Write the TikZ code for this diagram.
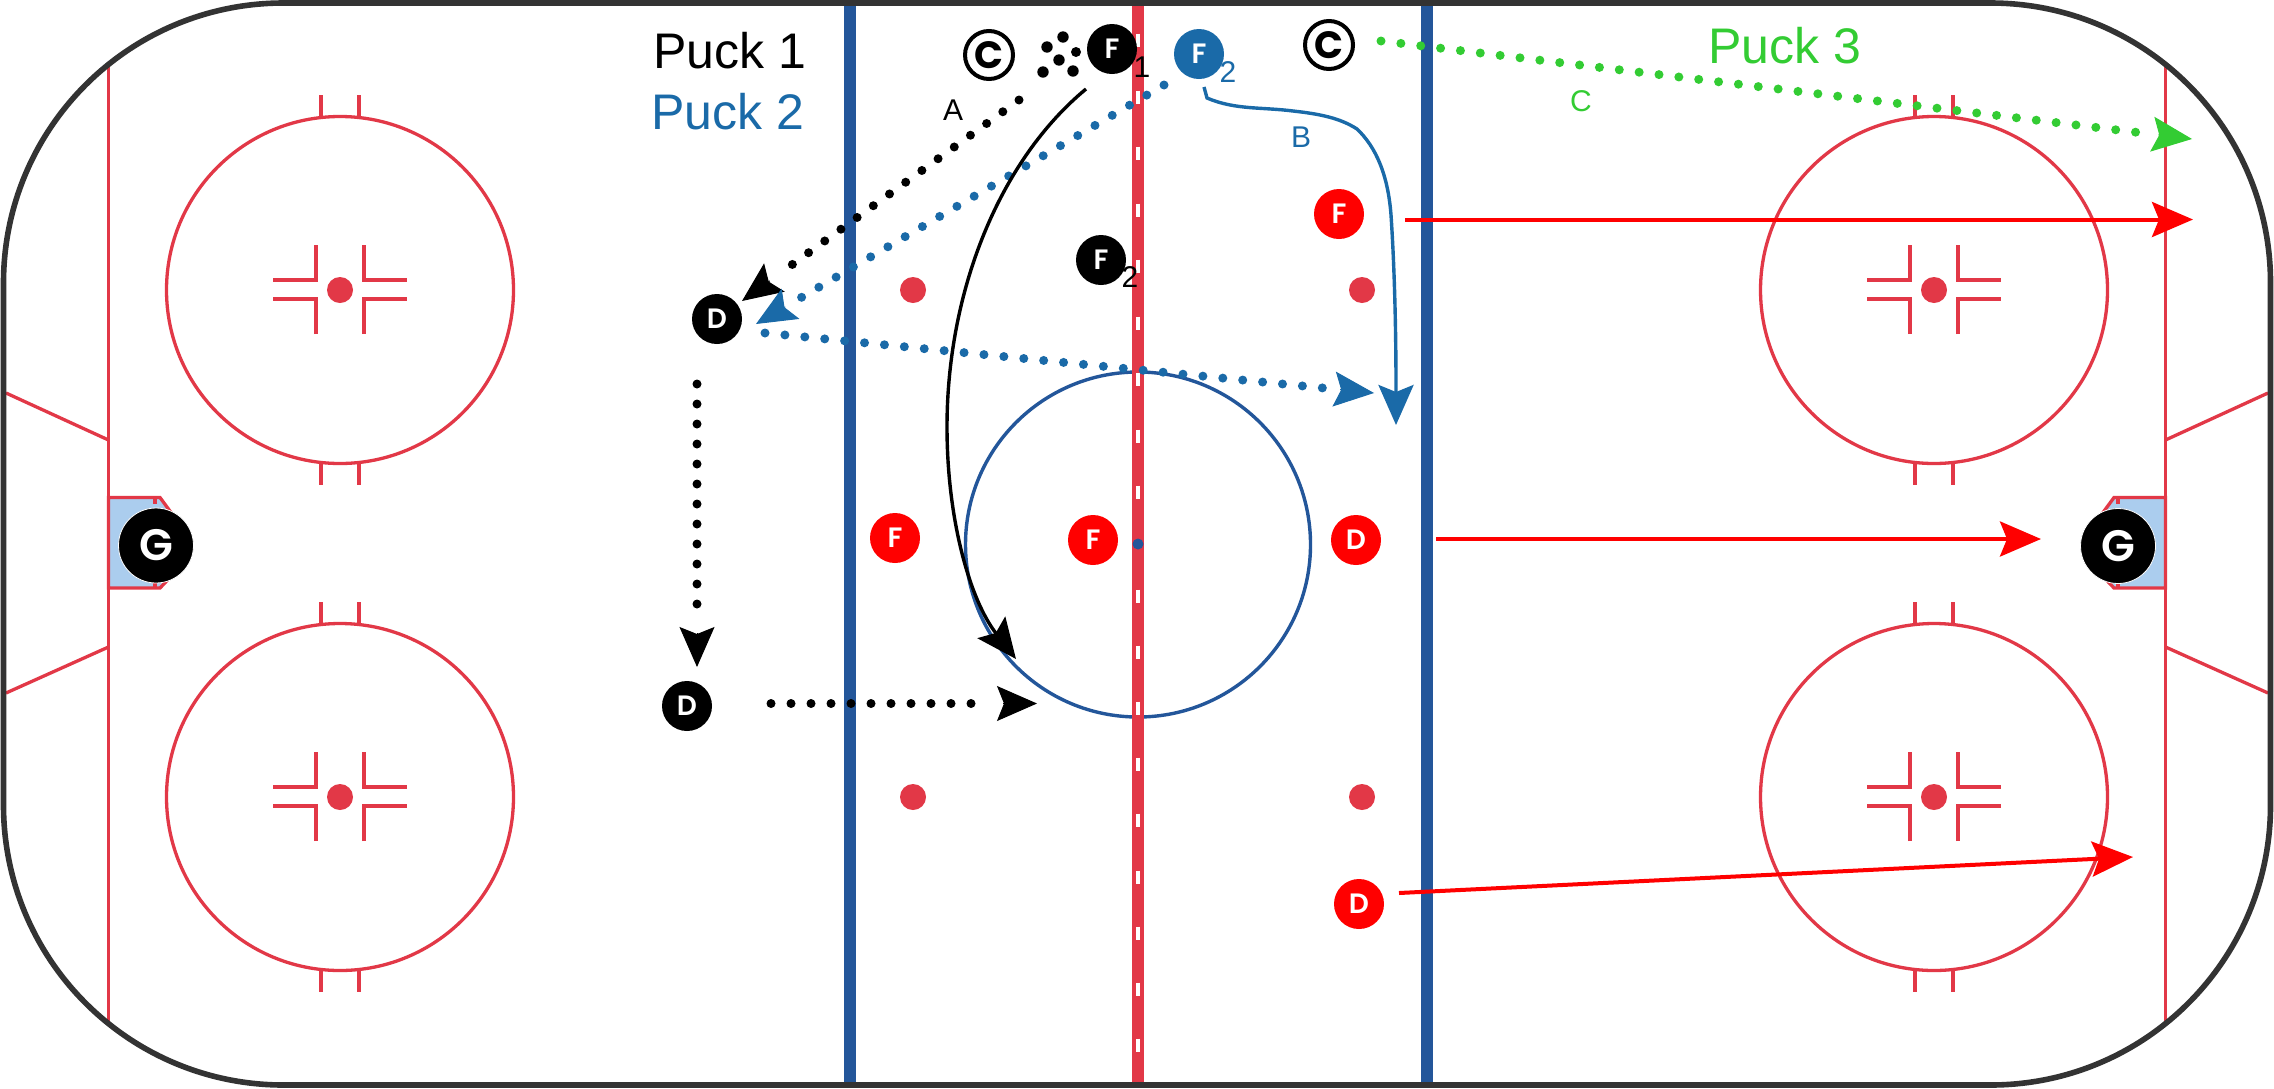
\documentclass[tikz,border=0pt]{standalone}
\usepackage{fontspec}
\setmainfont{Liberation Sans}
\newfontfamily\plfont{Poppins}[BoldFont={Poppins SemiBold}]
\newfontfamily\coachfont{Poppins}
\usetikzlibrary{arrows.meta}
\definecolor{rinkred}{HTML}{E23847}
\definecolor{rinkblue}{HTML}{23569A}
\definecolor{pkblue}{HTML}{1A6AA8}
\definecolor{pkgreen}{HTML}{33CC33}
\definecolor{crease}{HTML}{ABCDEE}
\definecolor{board}{HTML}{333333}
\definecolor{plred}{HTML}{FF0000}
\tikzset{
  marking/.style={draw=rinkred,line width=1.65pt},
  bigline/.style={line width=6pt},
  player/.style={circle,minimum size=25pt,inner sep=0pt,text=white,font=\plfont\bfseries\fontsize{14}{14}\selectfont},
  goalie/.style={circle,minimum size=37.5pt,inner sep=0pt,fill=black,draw=white,line width=0.4pt,text=white,font=\plfont\bfseries\fontsize{22}{22}\selectfont},
  coach/.style={circle,minimum size=24pt,inner sep=0pt,fill=white,draw=black,line width=2pt,text=black,font=\coachfont\bfseries\fontsize{19}{19}\selectfont},
  bigtext/.style={inner sep=0pt,anchor=base,font=\fontsize{25}{30}\selectfont},
  lab/.style={inner sep=0pt,font=\fontsize{15}{18}\selectfont},
  dotted path/.style 2 args={line width=4.5pt,line cap=round,dash pattern=on 0pt off 10pt,shorten >=#1,
     postaction={draw,solid,line width=0.5pt,line cap=butt,shorten >=0pt,shorten <=#2,
       -{Stealth[length=20pt,width=17.5pt,inset=3.5pt]}}},
  solid path/.style={line width=1.7pt,-{Stealth[length=20pt,width=17.5pt,inset=3.5pt]}},
  red path/.style={line width=2pt,draw=plred,-{Stealth[length=20.5pt,width=17.5pt,inset=3.5pt]}},
}
\newcommand{\faceoff}[2]{%
  \draw[marking] (#1,#2) circle[radius=173.5];
  \fill[rinkred] (#1,#2) circle[radius=13];
  \foreach \tx in {-19,19}{
    \draw[marking] (#1+\tx,#2-173.5) -- (#1+\tx,#2-195);
    \draw[marking] (#1+\tx,#2+173.5) -- (#1+\tx,#2+195);
  }
  \foreach \sx in {-1,1}{
    \draw[marking] (#1+\sx*24,#2-45) -- (#1+\sx*24,#2-10) -- (#1+\sx*67,#2-10);
    \draw[marking] (#1+\sx*24,#2+44) -- (#1+\sx*24,#2+9) -- (#1+\sx*67,#2+9);
  }
}
\begin{document}
\begin{tikzpicture}[x=0.5pt,y=-0.5pt]
\useasboundingbox (0,0) rectangle (2274,1088);
\fill[white] (0,0) rectangle (2274,1088);
% end zone markings
\draw[marking] (108.5,64) -- (108.5,1024);
\draw[marking] (2165.5,64) -- (2165.5,1024);
\draw[marking] (6,393) -- (108.5,440);
\draw[marking] (6,693) -- (108.5,647);
\draw[marking] (2268,393) -- (2165.5,440);
\draw[marking] (2268,693) -- (2165.5,647);
% creases
\draw[marking,fill=crease] (108.5,497.5) -- (160,497.5) -- (178,522) -- (178,569) -- (160,588) -- (108.5,588) -- cycle;
\draw[marking,fill=crease] (2165.5,497.5) -- (2114,497.5) -- (2096,522) -- (2096,569) -- (2114,588) -- (2165.5,588) -- cycle;
\draw[marking] (155,497) -- (155,504);
\draw[marking] (155,582) -- (155,588);
\draw[marking] (2118,497) -- (2118,504);
\draw[marking] (2118,582) -- (2118,588);
% face-off circles
\faceoff{340}{290}
\faceoff{340}{797}
\faceoff{1934}{290}
\faceoff{1934}{797}
% neutral zone dots and centre circle
\foreach \nx/\ny in {913/290,1362/290,913/797,1362/797}
  \fill[rinkred] (\nx,\ny) circle[radius=13];
\draw[rinkblue,line width=1.7pt] (1138,544.5) circle[radius=172.5];
% lines
\draw[rinkblue,bigline] (849.5,5) -- (849.5,1083);
\draw[rinkblue,bigline] (1427,5) -- (1427,1083);
\draw[rinkred,bigline] (1138,5) -- (1138,1083);
\foreach \dy in {40,97,153,210,266,323,379,436,492,596,652,708,764,820,877,933,989,1045}
  \draw[white,line width=2pt] (1138,\dy-6.5) -- (1138,\dy+6.5);
\fill[rinkblue] (1138,544) circle[radius=5.5];
% boards
\draw[board,line width=2.8pt,rounded corners=140pt] (3.5,3) rectangle (2270.5,1085);
% pucks
\foreach \px/\py/\pr in {1063/37/5.7,1047/47/5.7,1076/52/5,1059/60/5.7,1043/72/5.7,1073/71/5.7}
  \fill[black] (\px,\py) circle[radius=\pr];
% players
\node[player,fill=black] (f1) at (1112,49) {F};
\node[player,fill=pkblue] (f2b) at (1199,54) {F};
\node[player,fill=black] (f2) at (1101,260) {F};
\node[player,fill=plred] (fr1) at (1339,214) {F};
\node[player,fill=plred] (fr2) at (895,538) {F};
\node[player,fill=plred] (fr3) at (1093,540) {F};
\node[player,fill=plred] (dr1) at (1356,540) {D};
\node[player,fill=plred] (dr2) at (1359,904) {D};
\node[player,fill=black] (d1) at (717,319) {D};
\node[player,fill=black] (d2) at (687,706) {D};
\node[goalie] (g1) at (156,545.5) {G};
\node[goalie] (g2) at (2118,546) {G};
\node[coach] (c1) at (989,55) {C};
\node[coach] (c2) at (1329,45) {C};
% subscripts
\node[lab,text=black] (s1) at (1142,67) {1};
\node[lab,text=pkblue] (s2) at (1228,72) {2};
\node[lab,text=black] (s3) at (1130,277) {2};
% connector ends
\coordinate (a1) at (1019,100);
\coordinate (a2) at (742,301);
\coordinate (b1) at (1164,85);
\coordinate (b2) at (756,324);
\coordinate (b3) at (765,333);
\coordinate (b4) at (1374,393);
\coordinate (v1) at (697,384);
\coordinate (v2) at (697,667);
\coordinate (h1) at (771,703.5);
\coordinate (h2) at (1037,703.5);
\coordinate (g3) at (1381,41);
\coordinate (g4) at (2192,139);
\coordinate (k1) at (1086,89);
\coordinate (k2) at (1016,659);
\coordinate (l1) at (1204,87);
\coordinate (l2) at (1396,425);
\coordinate (r1) at (1405,219.5);
\coordinate (r2) at (2193,219.5);
\coordinate (r3) at (1436,539);
\coordinate (r4) at (2041,539);
\coordinate (r5) at (1399,893);
\coordinate (r6) at (2133,857);
% dotted passes
\draw[black,dotted path={26pt}{154pt}] (a1) -- (a2);
\draw[pkblue,dotted path={21.5pt}{219.5pt}] (b1) -- (b2);
\draw[pkblue,dotted path={21pt}{289pt}] (b3) -- (b4);
\draw[black,dotted path={26.5pt}{124.5pt}] (v1) -- (v2);
\draw[black,dotted path={28pt}{116pt}] (h1) -- (h2);
\draw[pkgreen,dotted path={23.5pt}{391.5pt}] (g3) -- (g4);
% skating paths
\draw[solid path,black] (k1) .. controls (1000,160) and (947,290) .. (947,427)
   .. controls (947,520) and (970,600) .. (k2);
\draw[solid path,pkblue] (l1) -- (1207,98) .. controls (1235,110) and (1262,107) .. (1293,111)
   .. controls (1320,114) and (1340,118) .. (1357,129)
   .. controls (1376,147) and (1388,175) .. (1391,215)
   .. controls (1396,290) and (1396,370) .. (l2);
% red lanes
\draw[red path] (r1) -- (r2);
\draw[red path] (r3) -- (r4);
\draw[red path] (r5) -- (r6);
% labels
\node[bigtext,text=black] (t1) at (730,68) {Puck 1};
\node[bigtext,text=pkblue] (t2) at (728,129) {Puck 2};
\node[bigtext,text=pkgreen] (t3) at (1785,63) {Puck 3};
\node[lab,text=black] (la) at (953,110) {A};
\node[lab,text=pkblue] (lb) at (1301,137) {B};
\node[lab,text=pkgreen] (lc) at (1581,101) {C};
\end{tikzpicture}
\end{document}
